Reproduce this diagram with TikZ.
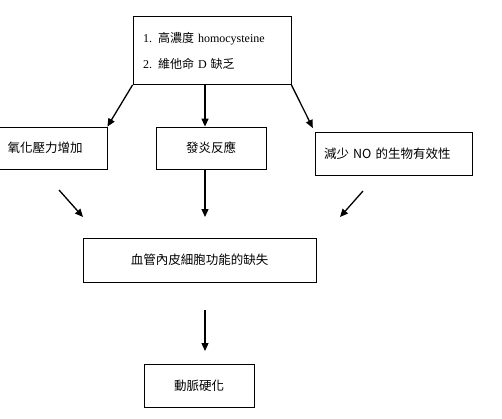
\documentclass[tikz,border=0pt]{standalone}
\usepackage{fontspec}
\setmainfont{Liberation Serif}
\newfontfamily\cjk{Noto Sans CJK TC}
\usetikzlibrary{arrows.meta,positioning}

\begin{document}
\begin{tikzpicture}[x=1pt, y=-1pt,
    box/.style={draw, line width=0.8pt, inner sep=0pt, font=\fontsize{12.5}{14}\selectfont\cjk},
    flow/.style={-{Triangle[length=8pt,width=7pt]}, line width=1.3pt}]
    \useasboundingbox (0,0) rectangle (502,418);

    % causes
    \node[box, font=\fontsize{12}{14}\selectfont, minimum width=158pt, minimum height=68pt,
          text width=138pt, inner xsep=10pt, align=left] (cause) at (212,50.5)
        {1. {\cjk 高濃度} homocysteine\\[12pt]2. {\cjk 維他命} D {\cjk 缺乏}};

    % three effects
    \node[box, minimum width=124pt, minimum height=42pt] (oxid) at (45,148) {氧化壓力增加};
    \node[box, minimum width=110pt, minimum height=42pt] (infl) at (211,148) {發炎反應};
    \node[box, minimum width=157pt, minimum height=43pt, text width=139pt,
          inner xsep=9pt, align=left] (nobio) at (393.5,153.5) {減少 NO 的生物有效性};

    % endothelium and result
    \node[box, minimum width=233pt, minimum height=44pt] (endo) at (199.5,260) {血管內皮細胞功能的缺失};
    \node[box, minimum width=110pt, minimum height=43pt] (sclero) at (199,385.5) {動脈硬化};

    % free arrow ends
    \coordinate (ol) at (59,190);  \coordinate (ot) at (83,217);
    \coordinate (mt) at (205,217);
    \coordinate (nl) at (363,191); \coordinate (nt) at (340,217);
    \coordinate (dl) at (205,310); \coordinate (dt) at (205,351);

    \draw[flow] (cause.south west) -- (oxid.north east);
    \draw[flow] (cause.south -| mt) -- (infl.north -| mt);
    \draw[flow, shorten >=4pt] (cause.south east) -- (nobio.north west);

    \draw[flow] (ol) -- (ot);
    \draw[flow] (infl.south -| mt) -- (mt);
    \draw[flow] (nl) -- (nt);
    \draw[flow] (dl) -- (dt);
\end{tikzpicture}
\end{document}
